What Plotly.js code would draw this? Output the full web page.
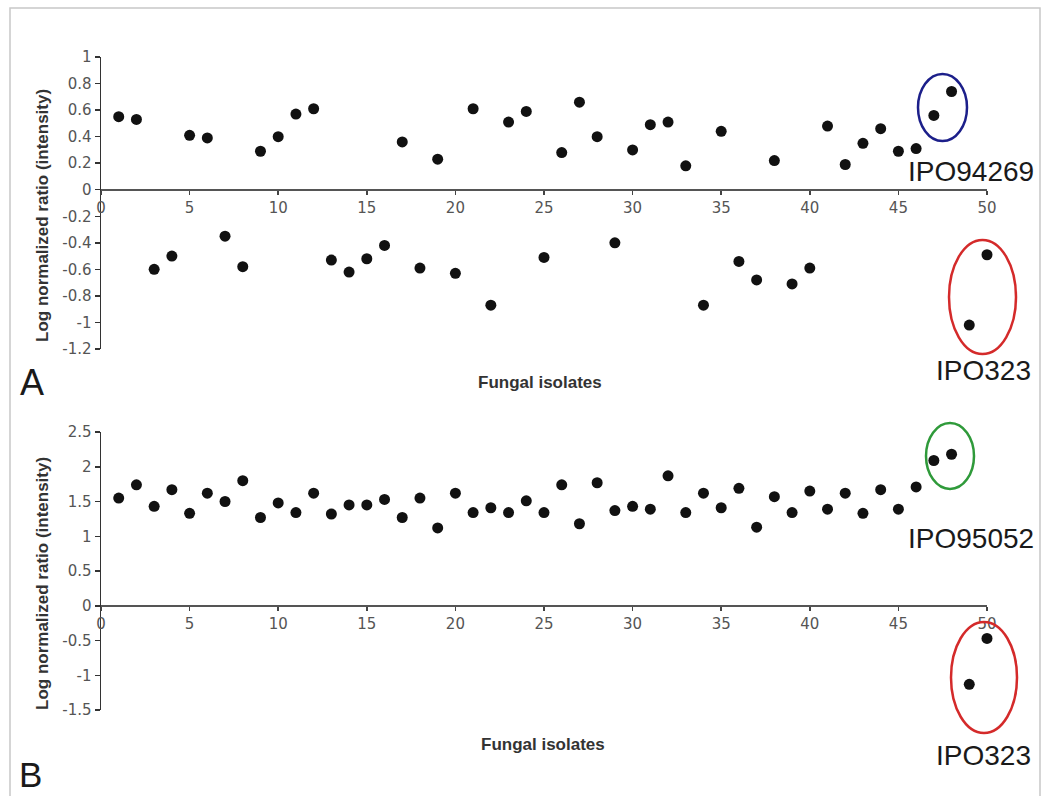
<!DOCTYPE html>
<html>
<head>
<meta charset="utf-8">
<script src="https://cdn.plot.ly/plotly-3.0.1.min.js"></script>
<style>
  html, body { margin: 0; padding: 0; background: #ffffff; }
  #chart { width: 1043px; height: 796px; }
</style>
</head>
<body>
<div id="chart"></div>
<script>
// ---- data ----
const isolates = [1,2,3,4,5,6,7,8,9,10,11,12,13,14,15,16,17,18,19,20,21,22,23,24,25,
                  26,27,28,29,30,31,32,33,34,35,36,37,38,39,40,41,42,43,44,45,46,47,48,49,50];
const panelA = [0.55,0.53,-0.60,-0.50,0.41,0.39,-0.35,-0.58,0.29,0.40,0.57,0.61,-0.53,-0.62,-0.52,
                -0.42,0.36,-0.59,0.23,-0.63,0.61,-0.87,0.51,0.59,-0.51,0.28,0.66,0.40,-0.40,0.30,
                0.49,0.51,0.18,-0.87,0.44,-0.54,-0.68,0.22,-0.71,-0.59,0.48,0.19,0.35,0.46,0.29,
                0.31,0.56,0.74,-1.02,-0.49];
const panelB = [1.55,1.74,1.43,1.67,1.33,1.62,1.50,1.80,1.27,1.48,1.34,1.62,1.32,1.45,1.45,
                1.53,1.27,1.55,1.12,1.62,1.34,1.41,1.34,1.51,1.34,1.74,1.18,1.77,1.37,1.43,
                1.39,1.87,1.34,1.62,1.41,1.69,1.13,1.57,1.34,1.65,1.39,1.62,1.33,1.67,1.39,
                1.71,2.09,2.18,-1.13,-0.47];
const xTickVals = [0,5,10,15,20,25,30,35,40,45,50];
const xTickText = ["0","5","10","15","20","25","30","35","40","45","50"];
const yTickValsA = [1,0.8,0.6,0.4,0.2,0,-0.2,-0.4,-0.6,-0.8,-1,-1.2];
const yTickTextA = ["1","0.8","0.6","0.4","0.2","0","-0.2","-0.4","-0.6","-0.8","-1","-1.2"];
const yTickValsB = [2.5,2,1.5,1,0.5,0,-0.5,-1,-1.5];
const yTickTextB = ["2.5","2","1.5","1","0.5","0","-0.5","-1","-1.5"];
const yTitle = "Log normalized ratio (intensity)";
const xTitle = "Fungal isolates";
const panelLabels = ["A", "B"];
const groupLabels = ["IPO94269", "IPO323", "IPO95052", "IPO323"];

// ---- layout helpers (pixel -> paper) ----
const W = 1043, H = 796;
const px = v => v / W;
const py = v => 1 - v / H;

const FONT = "Liberation Sans, Arial, sans-serif";
const TICKFONT = "DejaVu Sans, Liberation Sans, sans-serif";

const markerStyle = { color: "#111111", size: 11, line: { width: 0 } };

const traces = [
  { x: isolates, y: panelA, xaxis: "x", yaxis: "y", type: "scatter", mode: "markers",
    marker: markerStyle, cliponaxis: false, hoverinfo: "skip" },
  { x: isolates, y: panelB, xaxis: "x2", yaxis: "y2", type: "scatter", mode: "markers",
    marker: markerStyle, cliponaxis: false, hoverinfo: "skip" }
];

const xDom = [px(101), px(987)];
const yDomA = [py(349), py(57)];
const yDomB = [py(710), py(432)];
const zeroA = yDomA[0] + (yDomA[1] - yDomA[0]) * (1.2 / 2.2);
const zeroB = yDomB[0] + (yDomB[1] - yDomB[0]) * (1.5 / 4.0);

function xAxis(pos) {
  return {
    domain: xDom, range: [0, 50], anchor: "free", position: pos,
    showline: true, linecolor: "#555555", linewidth: 2,
    ticks: "outside", ticklen: 4, tickwidth: 1.5, tickcolor: "#444444",
    tickvals: xTickVals, ticktext: xTickText,
    tickfont: { family: TICKFONT, size: 15, color: "#555555" },
    showgrid: false, zeroline: false, fixedrange: true
  };
}
function yAxis(dom, range, vals, text, anchor) {
  return {
    domain: dom, range: range, anchor: anchor,
    showline: true, linecolor: "#333333", linewidth: 1.5,
    ticks: "outside", ticklen: 5, tickwidth: 1.5, tickcolor: "#333333",
    tickvals: vals, ticktext: text,
    tickfont: { family: TICKFONT, size: 15, color: "#555555" },
    showgrid: false, zeroline: false, fixedrange: true
  };
}

function ellipse(x0, y0, x1, y1, color) {
  return { type: "circle", xref: "paper", yref: "paper",
    x0: px(x0), x1: px(x1), y0: py(y1), y1: py(y0),
    line: { color: color, width: 2.5 }, fillcolor: "rgba(0,0,0,0)" };
}

function ann(text, x, y, size, opts) {
  return Object.assign({ text: text, xref: "paper", yref: "paper", x: px(x), y: py(y),
    xanchor: "center", yanchor: "middle", showarrow: false,
    font: { family: FONT, size: size, color: "#1a1a1a" } }, opts || {});
}

const boldTitle = { family: FONT, size: 17, color: "#333333", weight: "bold" };

const layout = {
  width: W, height: H, autosize: false,
  margin: { l: 0, r: 0, t: 0, b: 0, pad: 0 },
  paper_bgcolor: "#ffffff", plot_bgcolor: "rgba(0,0,0,0)",
  showlegend: false,
  xaxis: xAxis(zeroA),
  yaxis: yAxis(yDomA, [-1.2, 1], yTickValsA, yTickTextA, "x"),
  xaxis2: xAxis(zeroB),
  yaxis2: yAxis(yDomB, [-1.5, 2.5], yTickValsB, yTickTextB, "x2"),
  shapes: [
    { type: "rect", xref: "paper", yref: "paper", x0: px(10), x1: px(1040), y0: -0.02, y1: py(8),
      line: { color: "#c8c8c8", width: 1.5 }, fillcolor: "rgba(0,0,0,0)", layer: "below" },
    ellipse(918, 74, 967, 141, "#1c1f8a"),
    ellipse(949, 240, 1016, 354, "#d42a2a"),
    ellipse(926, 423, 974, 489, "#2f9a3a"),
    ellipse(951, 622, 1017, 733, "#d42a2a")
  ],
  annotations: [
    ann(yTitle, 42, 216, 17, { textangle: -90, font: boldTitle }),
    ann(yTitle, 42, 584, 17, { textangle: -90, font: boldTitle }),
    ann(xTitle, 540, 382, 17, { font: boldTitle }),
    ann(xTitle, 543, 744, 17, { font: boldTitle }),
    ann(panelLabels[0], 32, 382, 36),
    ann(panelLabels[1], 30, 796, 35, { yanchor: "bottom", y: 0 }),
    ann(groupLabels[0], 971, 172, 28),
    ann(groupLabels[1], 983, 371, 28),
    ann(groupLabels[2], 971, 538, 28),
    ann(groupLabels[3], 983, 755, 28)
  ]
};

Plotly.newPlot("chart", traces, layout, { staticPlot: true, displayModeBar: false });
</script>
</body>
</html>
